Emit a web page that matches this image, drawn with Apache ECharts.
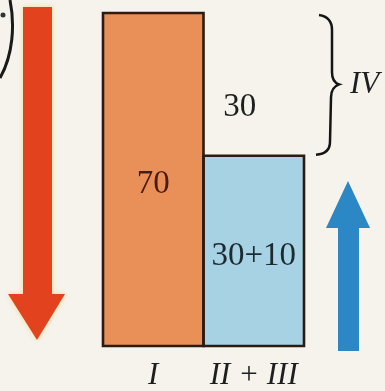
<!DOCTYPE html>
<html>
<head>
<meta charset="utf-8">
<script src="https://cdn.jsdelivr.net/npm/echarts@6/dist/echarts.min.js"></script>
<style>
  html, body { margin: 0; padding: 0; background: #f5f3ec; }
  #chart { width: 385px; height: 391px; }
</style>
</head>
<body>
<div id="chart"></div>
<script>
// Energy balance columns: input (I) against the parts II+III, with the remainder IV
const categories = ['I', 'II+III'];
const columnValues = [70, 40];
const columnLabels = ['70', '30+10'];
const remainderValues = ['-', 30];
const remainderLabel = '30';
const braceRange = [[1, 40, 70]];
const braceLabel = 'IV';

const columnColors = ['#e98f58', '#a7d2e3'];
const labelColors = ['#4a1c10', '#1c2a32'];
const edgeColor = '#2a1c12';
const serif = 'Liberation Serif, Times New Roman, serif';

const chart = echarts.init(document.getElementById('chart'), null, { renderer: 'canvas' });

chart.setOption({
  backgroundColor: '#f5f3ec',
  animation: false,
  grid: { left: 103, right: 81, top: 13, bottom: 44 },
  xAxis: {
    type: 'category',
    data: categories,
    axisLine: { show: false },
    axisTick: { show: false },
    axisLabel: {
      interval: 0,
      margin: 14,
      fontFamily: serif,
      fontStyle: 'italic',
      fontSize: 31,
      color: '#1e1e1e',
      formatter: v => v.replace('+', ' + ')
    }
  },
  yAxis: { type: 'value', min: 0, max: 70, show: false },
  series: [
    {
      type: 'bar',
      stack: 'total',
      barCategoryGap: '0%',
      z: 2,
      data: columnValues.map((v, i) => ({
        value: v,
        itemStyle: { color: columnColors[i] },
        label: { color: labelColors[i] }
      })),
      label: {
        show: true,
        position: 'inside',
        offset: [0, 5],
        fontFamily: serif,
        fontSize: 33,
        formatter: p => columnLabels[p.dataIndex]
      }
    },
    {
      type: 'bar',
      stack: 'total',
      barCategoryGap: '0%',
      z: 2,
      data: remainderValues,
      itemStyle: { color: 'rgba(0,0,0,0)' },
      label: {
        show: true,
        position: 'inside',
        offset: [-14, 23],
        fontFamily: serif,
        fontSize: 33,
        color: '#1e1e1e',
        formatter: () => remainderLabel
      }
    },
    {
      // column outlines, centred on the column edges so neighbours share one line
      type: 'custom',
      coordinateSystem: 'cartesian2d',
      clip: false,
      z: 5,
      data: columnValues.map((v, i) => [i, v]),
      encode: { x: 0, y: 1 },
      renderItem: (params, api) => {
        const topPt = api.coord([api.value(0), api.value(1)]);
        const basePt = api.coord([api.value(0), 0]);
        const w = api.size([1, 0])[0];
        return {
          type: 'rect',
          shape: { x: topPt[0] - w / 2, y: topPt[1], width: w, height: basePt[1] - topPt[1] },
          style: { fill: null, stroke: edgeColor, lineWidth: 2.6 }
        };
      }
    },
    {
      type: 'custom',
      coordinateSystem: 'cartesian2d',
      clip: false,
      z: 5,
      data: braceRange,
      encode: { x: 0, y: [1, 2] },
      renderItem: (params, api) => {
        const top = api.coord([api.value(0), api.value(2)]);
        const bot = api.coord([api.value(0), api.value(1)]);
        const half = api.size([1, 0])[0] / 2;
        const x = top[0] + half;
        const y0 = top[1] + 2, y1 = bot[1] - 2;
        const ym = (y0 + y1) / 2;
        const d = [
          'M', x + 15, y0,
          'Q', x + 28, y0 + 2, x + 28, y0 + 15,
          'L', x + 28, ym - 12,
          'Q', x + 28, ym - 2, x + 35, ym,
          'Q', x + 27, ym + 3, x + 27, ym + 13,
          'L', x + 26, y1 - 12,
          'Q', x + 26, y1, x + 12, y1 + 1
        ].join(' ');
        return {
          type: 'group',
          children: [
            {
              type: 'path',
              shape: { pathData: d },
              style: { fill: null, stroke: '#151515', lineWidth: 2.5 }
            },
            {
              type: 'text',
              style: {
                x: x + 46, y: ym,
                text: braceLabel,
                fill: '#1e1e1e',
                font: 'italic 31px ' + serif,
                verticalAlign: 'middle',
                align: 'left'
              }
            }
          ]
        };
      }
    }
  ],
  graphic: [
    // descending arrow on the left
    {
      type: 'polygon',
      shape: { points: [[23, 7], [52, 7], [52, 294], [65, 294], [37, 340], [8, 294], [23, 294]] },
      style: { fill: '#e2431e', shadowBlur: 5, shadowColor: 'rgba(240,200,90,0.6)' }
    },
    // rising arrow on the right
    {
      type: 'polygon',
      shape: { points: [[338, 351], [359, 351], [359, 228], [370, 228], [348, 181], [326, 228], [338, 228]] },
      style: { fill: '#2b88c4' }
    },
    // edge of the neighbouring round figure
    {
      type: 'bezierCurve',
      shape: { x1: 10, y1: 0, cpx1: 15, cpy1: 25, cpx2: 13, cpy2: 55, x2: 0, y2: 78 },
      style: { fill: null, stroke: '#1a1a1a', lineWidth: 3 }
    },
    {
      type: 'circle',
      shape: { cx: 3, cy: 15, r: 2.5 },
      style: { fill: '#333' }
    }
  ]
});
</script>
</body>
</html>
